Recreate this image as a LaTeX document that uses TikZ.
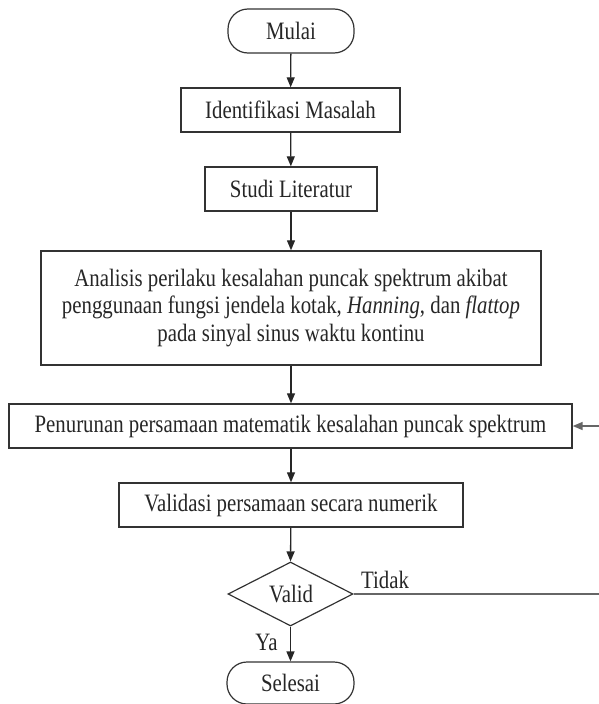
\documentclass[tikz,border=0pt]{standalone}
\usepackage{fontspec}
\setmainfont{Liberation Serif}[FakeStretch=0.833]
\usetikzlibrary{shapes.geometric,arrows.meta}
\begin{document}
\begin{tikzpicture}[x=1pt,y=-1pt,
  every node/.style={font=\fontsize{25}{27.5}\selectfont, text=black!85},
  box/.style={draw=black!80, line width=1.4pt, rectangle, inner sep=0pt},
  term/.style={draw=black!80, line width=1.2pt, rectangle, rounded corners=20pt, inner sep=0pt},
  dec/.style={draw=black!80, line width=1.2pt, diamond, inner sep=0pt, shape aspect=1.9},
  arr/.style={draw=black!85, line width=1.3pt, -{Triangle[length=10pt,width=8pt]}},
  lbl/.style={inner sep=0pt}]
\useasboundingbox (0,0) rectangle (599,704);
\node[term, minimum width=126pt, minimum height=44pt] (mulai) at (291,31) {Mulai};
\node[box, minimum width=219pt, minimum height=44pt] (ident) at (290.5,110) {Identifikasi Masalah};
\node[box, minimum width=172pt, minimum height=44pt] (studi) at (291,189) {Studi Literatur};
\node[box, minimum width=500pt, minimum height=114pt, align=center] (anal) at (291,308)
  {Analisis perilaku kesalahan puncak spektrum akibat\\
   penggunaan fungsi jendela kotak, \textit{Hanning}, dan \textit{flattop}\\
   pada sinyal sinus waktu kontinu};
\node[box, minimum width=563pt, minimum height=44pt] (turun) at (290.5,426) {Penurunan persamaan matematik kesalahan puncak spektrum};
\node[box, minimum width=344pt, minimum height=44pt] (valid) at (291,505) {Validasi persamaan secara numerik};
\node[dec, minimum width=125pt, minimum height=64pt] (cek) at (290.5,594) {};
\node[lbl] (cektext) at (291,594) {Valid};
\node[term, minimum width=127pt, minimum height=42pt] (selesai) at (290.5,683) {Selesai};
\node[lbl] (tidak) at (385,580) {Tidak};
\node[lbl] (ya) at (266.5,642) {Ya};
\coordinate (r1) at (603,594);
\draw[arr] (mulai) -- (ident);
\draw[arr] (ident) -- (studi);
\draw[arr] (studi) -- (anal.north -| studi);
\draw[arr] (anal.south -| studi) -- (turun.north -| studi);
\draw[arr] (turun.south -| studi) -- (valid);
\draw[arr] (valid) -- (cek.north);
\draw[arr] (cek.south) -- (selesai);
\draw[arr, draw=black!60, line width=1.6pt] (cek.east) -- (r1) |- (turun.east);
\end{tikzpicture}
\end{document}
